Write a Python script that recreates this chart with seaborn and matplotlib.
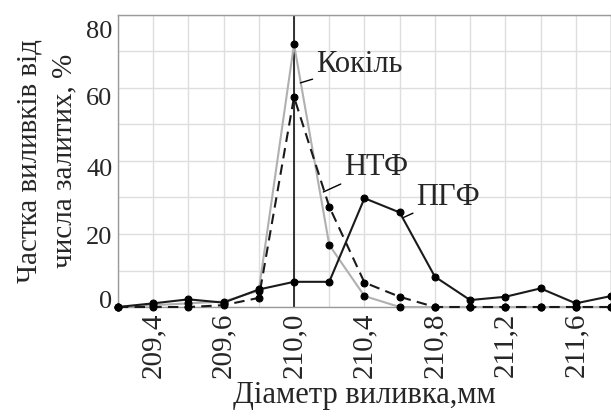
import numpy as np
import pandas as pd
import matplotlib.pyplot as plt
import matplotlib.transforms as mtransforms
import seaborn as sns

sns.set_theme(style="whitegrid")
plt.rcParams['font.family'] = ['Liberation Serif', 'DejaVu Serif']

# Data
kokil = [0, 0.5, 1, 1.5, 4.5, 72, 17, 3, 0, 0, 0, 0, 0, 0, 0]
ntf = [0, 0, 0, 0.5, 2.5, 57.5, 27.5, 6.7, 2.8, 0, 0, 0, 0, 0, 0]
pgf = [0, 1, 2.1, 1.2, 4.8, 6.9, 6.9, 29.8, 25.9, 8.3, 1.9, 2.8, 5.1, 1, 3]
tick_labels = ['209,4', '209,6', '210,0', '210,4', '210,8', '211,2', '211,6']

x = np.arange(len(pgf))
df = pd.DataFrame({'x': x, 'Кокіль': kokil, 'НТФ': ntf, 'ПГФ': pgf})

fig = plt.figure(figsize=(6.11, 4.16), dpi=100)
ax = fig.add_axes([0.193, 0.262, 0.807, 0.702])

ax.axvline(5, color='black', lw=1.1, zorder=1)

sns.lineplot(data=df, x='x', y='Кокіль', ax=ax, color='#b0b0b0', lw=1.5,
             marker='o', markersize=5, markerfacecolor='black',
             markeredgecolor='black', clip_on=False, zorder=3)
sns.lineplot(data=df, x='x', y='НТФ', ax=ax, color='#1a1a1a', lw=1.5,
             linestyle=(0, (5, 3)), marker='o', markersize=5,
             markerfacecolor='black', markeredgecolor='black',
             clip_on=False, zorder=4)
sns.lineplot(data=df, x='x', y='ПГФ', ax=ax, color='#1a1a1a', lw=1.5,
             marker='o', markersize=5, markerfacecolor='black',
             markeredgecolor='black', clip_on=False, zorder=5)

ax.set_xlim(0, len(pgf) - 1)
ax.set_ylim(0, 80)
ax.set_xticks(x, minor=True)
ax.set_xticks(range(1, len(pgf), 2))
ax.set_xticklabels(tick_labels, rotation=90, fontsize=21)
ax.set_yticks(np.arange(10, 80, 20), minor=True)
ax.set_yticks([0, 20, 40, 60, 80])
ax.tick_params(axis='y', labelsize=19, pad=4, length=0)
ax.tick_params(axis='x', pad=4, length=0)
ax.tick_params(which='minor', length=0)
ax.grid(which='both', color='#dedede', lw=1)
for s in ax.spines.values():
    s.set_color('#9a9a9a')
    s.set_linewidth(1)

# y tick labels in the source sit slightly off their grid lines
shifts = [-8, 2, 7, 9, 15]
for lab, dy in zip(ax.get_yticklabels(), shifts):
    lab.set_transform(lab.get_transform() +
                      mtransforms.ScaledTranslation(0, -dy / 100, fig.dpi_scale_trans))

ax.set_xlabel('Діаметр виливка,мм', fontsize=22, labelpad=2)
ax.set_ylabel('Частка виливків від\nчисла залитих, %', fontsize=21,
              linespacing=1.45, labelpad=6)

# Curve labels with leader lines
ax.annotate('Кокіль', xy=(5.18, 61.4), xytext=(5.62, 66.3), fontsize=22,
            va='center', ha='left',
            arrowprops=dict(arrowstyle='-', color='black', lw=1, shrinkA=0, shrinkB=0))
ax.annotate('НТФ', xy=(5.83, 31.5), xytext=(6.42, 38.1), fontsize=22,
            va='center', ha='left',
            arrowprops=dict(arrowstyle='-', color='black', lw=1, shrinkA=0, shrinkB=0))
ax.annotate('ПГФ', xy=(8.08, 24.4), xytext=(8.47, 30.1), fontsize=22,
            va='center', ha='left',
            arrowprops=dict(arrowstyle='-', color='black', lw=1, shrinkA=0, shrinkB=0))

fig.savefig('out.png', dpi=100)
